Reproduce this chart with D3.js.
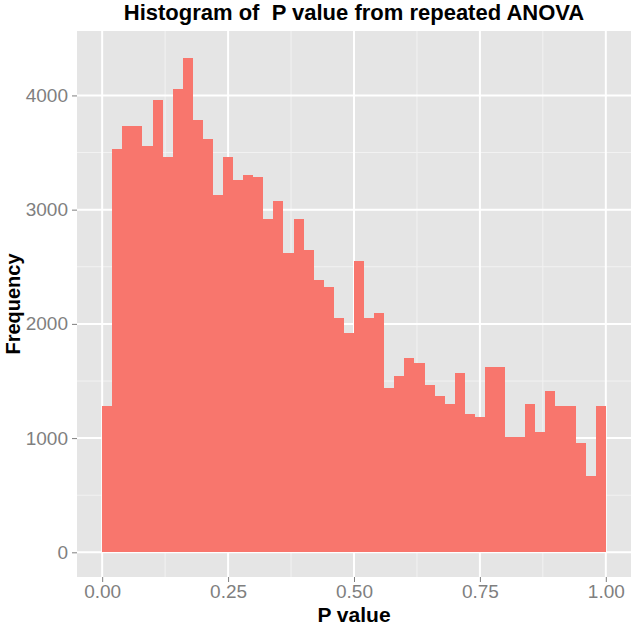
<!DOCTYPE html>
<html>
<head>
<meta charset="utf-8">
<script src="https://cdn.jsdelivr.net/npm/d3@7"></script>
<style>
  html, body { margin: 0; padding: 0; background: #ffffff; }
  svg text { font-family: "Liberation Sans", Arial, sans-serif; }
</style>
</head>
<body>
<svg id="chart" width="636" height="627"></svg>
<script>
// ---- data ----
const binStarts = d3.range(0, 50).map(i => i / 50);   // 50 bins of width 0.02 on [0,1]
const binWidth = 0.02;
const frequencies = [
  1285, 3527, 3731, 3731, 3553, 3962, 3460, 4055, 4327, 3781,
  3618, 3125, 3460, 3262, 3303, 3285, 2921, 3072, 2620, 2918,
  2643, 2387, 2322, 2051, 1917, 2550, 2054, 2095, 1442, 1543,
  1704, 1660, 1462, 1368, 1301, 1570, 1208, 1188, 1622, 1622,
  1009, 1009, 1301, 1053, 1412, 1278, 1278, 957, 665, 1278
];
const xTicks = [0, 0.25, 0.5, 0.75, 1];
const xTickLabels = ["0.00", "0.25", "0.50", "0.75", "1.00"];
const yTicks = [0, 1000, 2000, 3000, 4000];
const xMinor = [0.125, 0.375, 0.625, 0.875];
const yMinor = [500, 1500, 2500, 3500];
const titleText = "Histogram of  P value from repeated ANOVA";
const xLabel = "P value";
const yLabel = "Frequency";

// ---- layout ----
const svg = d3.select("#chart");
const panel = { left: 77, right: 631, top: 31, bottom: 577 };

const x = d3.scaleLinear().domain([-0.05, 1.05]).range([panel.left, panel.right]);
const yMin = -216, yMax = 4564;
const y = d3.scaleLinear().domain([yMin, yMax]).range([panel.bottom, panel.top]);

// panel background
svg.append("rect")
  .attr("x", panel.left).attr("y", panel.top)
  .attr("width", panel.right - panel.left).attr("height", panel.bottom - panel.top)
  .attr("fill", "#E5E5E5");

// minor grid
svg.append("g").selectAll("line").data(xMinor).join("line")
  .attr("x1", d => x(d)).attr("x2", d => x(d))
  .attr("y1", panel.top).attr("y2", panel.bottom)
  .attr("stroke", "#F2F2F2").attr("stroke-width", 1);
svg.append("g").selectAll("line").data(yMinor).join("line")
  .attr("y1", d => y(d)).attr("y2", d => y(d))
  .attr("x1", panel.left).attr("x2", panel.right)
  .attr("stroke", "#F2F2F2").attr("stroke-width", 1);

// major grid
svg.append("g").selectAll("line").data(xTicks).join("line")
  .attr("x1", d => x(d)).attr("x2", d => x(d))
  .attr("y1", panel.top).attr("y2", panel.bottom)
  .attr("stroke", "#FFFFFF").attr("stroke-width", 2);
svg.append("g").selectAll("line").data(yTicks).join("line")
  .attr("y1", d => y(d)).attr("y2", d => y(d))
  .attr("x1", panel.left).attr("x2", panel.right)
  .attr("stroke", "#FFFFFF").attr("stroke-width", 2);

// bars
svg.append("g").selectAll("rect").data(frequencies).join("rect")
  .attr("x", (d, i) => x(binStarts[i]))
  .attr("width", (d, i) => x(binStarts[i] + binWidth) - x(binStarts[i]))
  .attr("y", d => y(d))
  .attr("height", d => y(0) - y(d))
  .attr("fill", "#F8766D")
  .attr("shape-rendering", "crispEdges");

// axes
const xAxis = d3.axisBottom(x).tickValues(xTicks)
  .tickFormat((d, i) => xTickLabels[i]).tickSize(5).tickPadding(3);
const gx = svg.append("g").attr("transform", `translate(0,${panel.bottom})`).call(xAxis);
gx.select(".domain").remove();
gx.selectAll(".tick line").attr("stroke", "#7F7F7F").attr("stroke-width", 1);
gx.selectAll(".tick text").attr("fill", "#7F7F7F").attr("font-size", 19)
  .attr("font-family", "Liberation Sans, Arial, sans-serif");

const yAxis = d3.axisLeft(y).tickValues(yTicks).tickFormat(d3.format("d")).tickSize(5).tickPadding(4);
const gy = svg.append("g").attr("transform", `translate(${panel.left},0)`).call(yAxis);
gy.select(".domain").remove();
gy.selectAll(".tick line").attr("stroke", "#7F7F7F").attr("stroke-width", 1);
gy.selectAll(".tick text").attr("fill", "#7F7F7F").attr("font-size", 19)
  .attr("font-family", "Liberation Sans, Arial, sans-serif");

// titles
svg.append("text")
  .attr("x", (panel.left + panel.right) / 2).attr("y", 20)
  .attr("text-anchor", "middle").attr("font-weight", "bold").attr("font-size", 22)
  .style("white-space", "pre")
  .text(titleText);

svg.append("text")
  .attr("x", (panel.left + panel.right) / 2).attr("y", 622)
  .attr("text-anchor", "middle").attr("font-weight", "bold").attr("font-size", 21)
  .text(xLabel);

svg.append("text")
  .attr("transform", `translate(20,${(panel.top + panel.bottom) / 2}) rotate(-90)`)
  .attr("text-anchor", "middle").attr("font-weight", "bold").attr("font-size", 20)
  .text(yLabel);
</script>
</body>
</html>
